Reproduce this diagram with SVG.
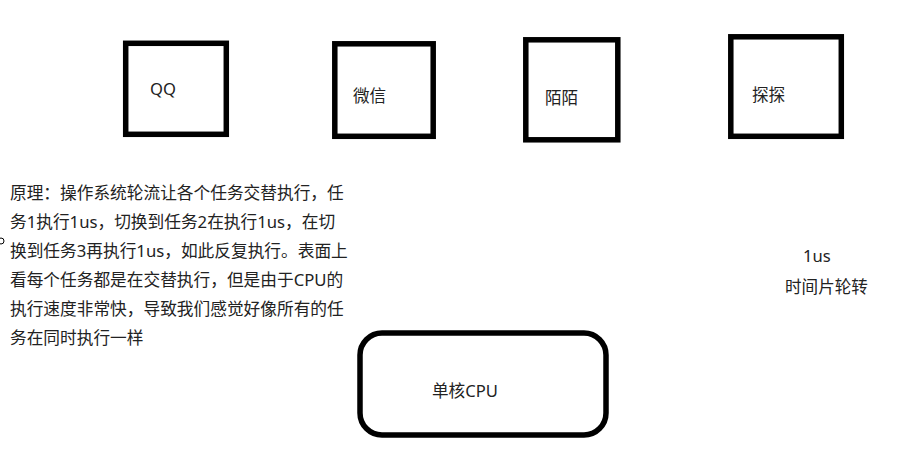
<svg xmlns="http://www.w3.org/2000/svg" width="904" height="451" viewBox="0 0 904 451">
<style>
.box{fill:#fff;stroke:#000;stroke-width:5.5}
text{font-family:"Noto Sans","Noto Sans CJK SC",sans-serif;font-size:16.6px;fill:#222}
.p{font-size:16.7px}
</style>
<rect width="904" height="451" fill="#fff"/>
<g id="node-qq"><rect class="box" x="125.7" y="43.3" width="100.6" height="91"/><text x="150" y="95">QQ</text></g>
<g id="node-weixin"><rect class="box" x="334.8" y="43.8" width="98.4" height="92.5"/><text x="353" y="102">微信</text></g>
<g id="node-momo"><rect class="box" x="525.8" y="39.8" width="92" height="100"/><text x="545" y="104">陌陌</text></g>
<g id="node-tantan"><rect class="box" x="730.8" y="36.8" width="110.5" height="99.5"/><text x="752" y="101">探探</text></g>
<g id="node-cpu"><rect class="box" x="360" y="333" width="246" height="102" rx="22" ry="22"/><text x="432" y="397">单核CPU</text></g>
<g id="node-principle">
<text class="p" x="10" y="199">原理：操作系统轮流让各个任务交替执行，任</text>
<text class="p" x="10" y="228">务1执行1us，切换到任务2在执行1us，在切</text>
<text class="p" x="10" y="257">换到任务3再执行1us，如此反复执行。表面上</text>
<text class="p" x="10" y="286">看每个任务都是在交替执行，但是由于CPU的</text>
<text class="p" x="10" y="315">执行速度非常快，导致我们感觉好像所有的任</text>
<text class="p" x="10" y="344">务在同时执行一样</text>
</g>
<g id="node-timeslice"><text x="803" y="262">1us</text><text x="785" y="293">时间片轮转</text></g>
<g id="connectors"/>
<circle cx="1" cy="241" r="3" fill="#fff" stroke="#000" stroke-width="1"/>
</svg>
